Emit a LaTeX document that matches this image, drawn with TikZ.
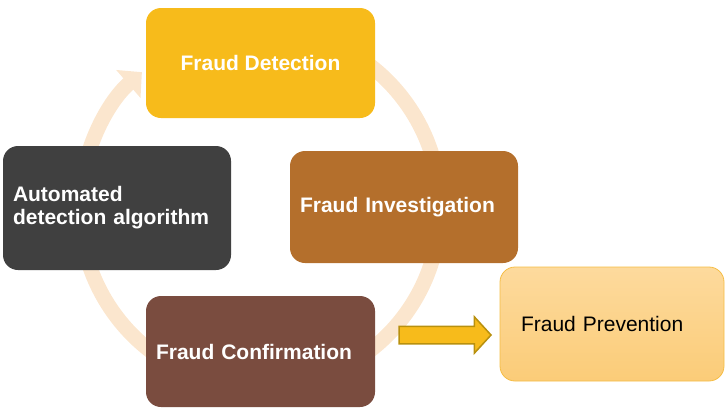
\documentclass[tikz,border=0pt]{standalone}
\usepackage{fontspec}
\setmainfont{Liberation Sans}
\usepackage{xcolor}
\usepackage{tikz}
\usetikzlibrary{arrows.meta,shapes.arrows}
\definecolor{DetectGold}{HTML}{F7BB1B}
\definecolor{InvestBrown}{HTML}{B46F2C}
\definecolor{ConfirmBrown}{HTML}{7A4C3F}
\definecolor{AlgoGray}{HTML}{404040}
\definecolor{PrevTop}{HTML}{FDDA9D}
\definecolor{PrevBottom}{HTML}{FBCC78}
\definecolor{PrevEdge}{HTML}{F5BD45}
\definecolor{CyclePeach}{HTML}{FBE6CE}
\definecolor{ArrowEdge}{HTML}{B8900E}
\tikzset{
  stage/.style={rounded corners=15pt,draw=none,text=white,align=left,
    inner xsep=10pt,font=\fontsize{21}{23}\selectfont\bfseries},
  prevent/.style={rounded corners=15pt,draw=PrevEdge,line width=0.8pt,
    top color=PrevTop,bottom color=PrevBottom,align=left,inner xsep=21pt,
    font=\fontsize{21}{23}\selectfont},
  cycle/.style={draw=CyclePeach,line width=15pt,
    -{Triangle[length=18pt,width=36pt]}},
  push/.style={single arrow,draw=ArrowEdge,fill=DetectGold,line width=1.5pt,
    single arrow head extend=9.5pt,single arrow tip angle=95,
    inner ysep=8pt,inner xsep=0pt,text height=0pt,text depth=0pt,
    minimum height=92pt}
}
\begin{document}
\begin{tikzpicture}[x=1pt,y=-1pt]
  \useasboundingbox (0,0) rectangle (727,418);
  % cycle behind the stages
  \draw[cycle] (260,208) ++(-80:180) arc[start angle=-80,end angle=229,radius=180];
  \node[stage,fill=DetectGold,minimum width=229pt,minimum height=110pt,align=center] (detect) at (260.5,63) {Fraud Detection};
  \node[stage,fill=InvestBrown,minimum width=228pt,minimum height=112pt,text width=208pt] (invest) at (404,207) {Fraud Investigation};
  \node[stage,fill=ConfirmBrown,minimum width=229pt,minimum height=111pt,text width=209pt] (confirm) at (260.5,351.5) {Fraud Confirmation};
  \node[stage,fill=AlgoGray,minimum width=228pt,minimum height=124pt,text width=208pt] (algo) at (117,208) {Automated\\detection algorithm};
  \node[prevent,minimum width=224pt,minimum height=114pt,text width=182pt] (prevention) at (612,324) {Fraud Prevention};
  \node[push] (toprev) at (441,335) {};
\end{tikzpicture}
\end{document}
